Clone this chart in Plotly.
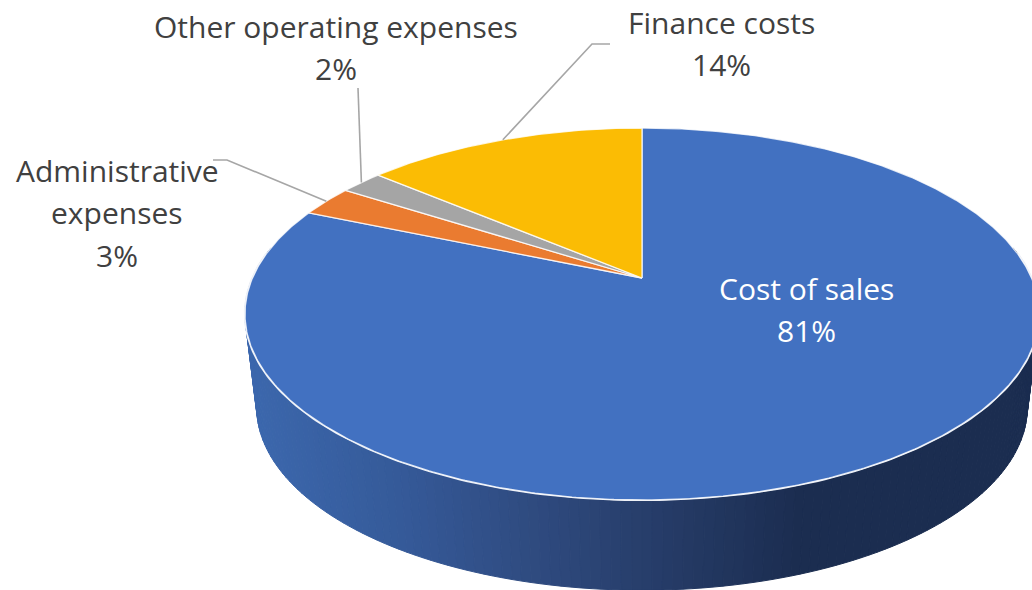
import numpy as np
import plotly.graph_objects as go

categories = ["Cost of sales", "Administrative expenses", "Other operating expenses", "Finance costs"]
shares = [81.4, 2.7, 2.1, 13.8]
colors = ["#4271C1", "#EA7B30", "#A5A5A5", "#FBBC04"]
label_lines = [["Cost of sales"], ["Administrative", "expenses"], ["Other operating expenses"], ["Finance costs"]]
label_x = [806, 117, 336, 721]
label_y = [288, 170, 26, 22]
text_colors = ["#FFFFFF", "#404040", "#404040", "#404040"]
elbows = [None, [(227, 160), (213, 160)], [(358, 88)], [(592, 44), (610, 44)]]

CX, K = 642.0, 0.1935
TOP = dict(a=389.5, b=179.0, y0=278.0)
BASE = dict(a=378.0, b=176.0, y0=372.0)
side_stops_x = [245, 400, 530, 660, 800, 1040]
side_stops_rgb = [(60, 104, 174), (53, 90, 153), (47, 75, 128), (38, 60, 104), (27, 45, 80), (27, 45, 80)]


def project(theta_deg, g=TOP):
    t = np.radians(theta_deg)
    u, v = np.cos(t), np.sin(t)
    d = 1 + K * v
    return CX + g["a"] * u / d, g["y0"] - g["b"] * v / d


def side_color(x):
    c = [np.interp(x, side_stops_x, [s[i] for s in side_stops_rgb]) for i in range(3)]
    return "rgb(%d,%d,%d)" % tuple(int(round(v)) for v in c)


fig = go.Figure()

# side wall, drawn as narrow strips so that it shades from left to right
edges = np.linspace(170, 370, 161)
for a0, a1 in zip(edges[:-1], edges[1:]):
    ts = np.linspace(a0, a1, 2)
    xt, yt = project(ts, TOP)
    xb, yb = project(ts, BASE)
    xs = np.r_[xt, xb[::-1], xt[0]]
    ys = np.r_[yt, yb[::-1], yt[0]]
    col = side_color(float(np.mean(xs)))
    fig.add_trace(go.Scatter(x=xs, y=ys, mode="lines", fill="toself", fillcolor=col,
                             line=dict(color=col, width=1), showlegend=False, hoverinfo="skip"))

# white rim along the front of the top face
ts = np.linspace(172, 368, 240)
xr, yr = project(ts)
fig.add_trace(go.Scatter(x=xr, y=yr, mode="lines", line=dict(color="#E8ECF4", width=2.4),
                         showlegend=False, hoverinfo="skip"))

# top face: clockwise from twelve o'clock
total = sum(shares)
start = 90.0
mids = []
for name, share, col in zip(categories, shares, colors):
    sweep = 360.0 * share / total
    ts = np.linspace(start, start - sweep, max(3, int(sweep * 2)))
    x, y = project(ts)
    ax, ay = project(0, dict(TOP, a=0, b=0))
    xs = np.r_[ax, x, ax]
    ys = np.r_[ay, y, ay]
    fig.add_trace(go.Scatter(x=xs, y=ys, mode="lines", fill="toself", fillcolor=col, name=name,
                             line=dict(color="rgba(255,255,255,0.8)", width=1.3),
                             showlegend=False, hoverinfo="skip"))
    mids.append(start - sweep / 2)
    start -= sweep

# leader lines from the middle of each small slice's rim
for mid, elbow in zip(mids, elbows):
    if elbow is None:
        continue
    x0, y0 = project(mid)
    fig.add_trace(go.Scatter(x=[float(x0)] + [p[0] for p in elbow], y=[float(y0)] + [p[1] for p in elbow],
                             mode="lines", line=dict(color="#A6A6A6", width=1.6),
                             showlegend=False, hoverinfo="skip"))

LINE_GAP = 42.7
annotations = []
for lines, share, lx, ly, tc in zip(label_lines, shares, label_x, label_y, text_colors):
    for i, text in enumerate(lines + ["%d%%" % round(share)]):
        annotations.append(dict(x=lx, y=ly + i * LINE_GAP, text=text, showarrow=False, xref="x", yref="y",
                                xanchor="center", yanchor="middle",
                                font=dict(family="Open Sans", size=30, color=tc)))

fig.update_layout(
    width=1032, height=590, margin=dict(l=0, r=0, t=0, b=0),
    paper_bgcolor="white", plot_bgcolor="white", showlegend=False, annotations=annotations,
    xaxis=dict(range=[0, 1032], visible=False, fixedrange=True),
    yaxis=dict(range=[590, 0], visible=False, fixedrange=True),
)
fig.write_html("out.html", config=dict(displayModeBar=False),
               post_script="document.body.style.margin='0';document.body.style.overflow='hidden';")
